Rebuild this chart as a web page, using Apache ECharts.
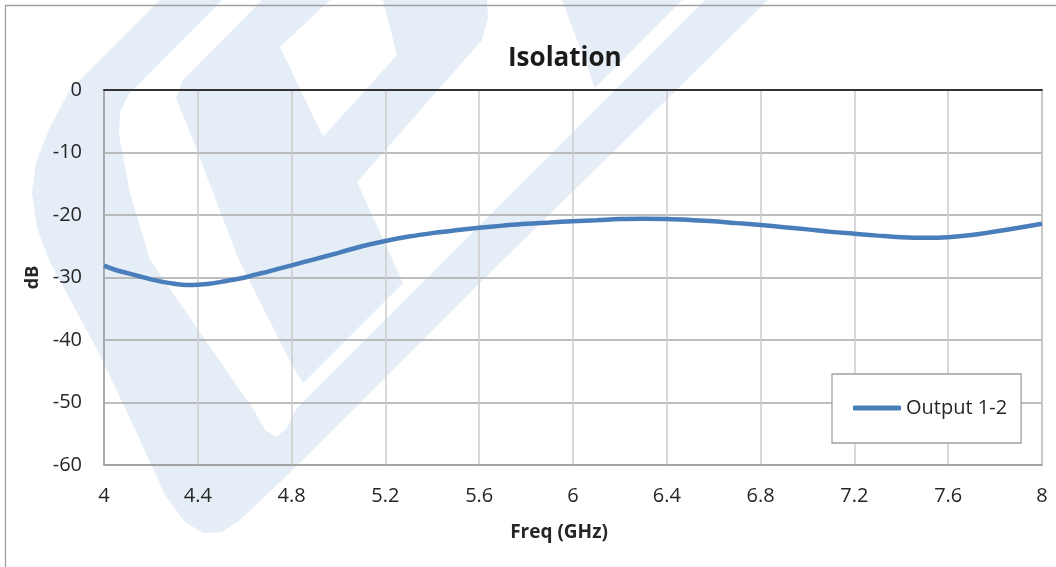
<!DOCTYPE html>
<html>
<head>
<meta charset="utf-8">
<script src="https://cdn.jsdelivr.net/npm/echarts@6/dist/echarts.min.js"></script>
<style>
html,body{margin:0;padding:0;background:#fff;}
#c{width:1056px;height:567px;}
</style>
</head>
<body>
<div id="c"></div>
<script>
// ---- data ----
const titleText = 'Isolation';
const seriesName = 'Output 1-2';
const xName = 'Freq (GHz)';
const yName = 'dB';
const freqs = [4.00,4.05,4.10,4.15,4.20,4.25,4.30,4.35,4.40,4.45,4.50,4.55,4.60,4.65,4.70,4.75,4.80,4.90,5.00,5.10,5.20,5.30,5.40,5.50,5.60,5.70,5.80,5.90,6.00,6.10,6.20,6.30,6.40,6.50,6.60,6.70,6.80,6.90,7.00,7.10,7.20,7.30,7.40,7.50,7.60,7.70,7.80,7.90,8.00];
const isolation = [-28.1,-28.8,-29.3,-29.8,-30.3,-30.7,-31.0,-31.2,-31.15,-31.0,-30.7,-30.35,-30.0,-29.5,-29.05,-28.55,-28.05,-27.05,-26.05,-25.0,-24.15,-23.45,-22.9,-22.45,-22.05,-21.7,-21.4,-21.2,-21.0,-20.85,-20.65,-20.6,-20.65,-20.8,-21.0,-21.3,-21.6,-21.95,-22.3,-22.7,-23.0,-23.3,-23.55,-23.65,-23.55,-23.2,-22.65,-22.05,-21.4];
const xMin = 4, xMax = 8, xStep = 0.4;
const yMin = -60, yMax = 0, yStep = 10;

// ---- watermark (decorative background logo) ----
const wmColor = '#e5edf6';
const wmFrame = [[160,0],[100,60],[70,90],[50,127],[36,162],[32,193],[37,228],[50,262],[100,355],[140,440],[165,495],[185,522],[203,533],[222,532],[240,520],[300,463],[500,263],[768,0],[705,0],[296,409],[286,429],[276,437],[265,430],[255,412],[150,260],[130,193],[119,135],[120,112],[129,94],[222,0]];
const wmInner = [[262,0],[183,80],[176,98],[190,132],[238,258],[292,365],[303,383],[403,283],[357,182],[482,40],[488,18],[487,0],[383,0],[397,55],[323,137],[280,47],[330,0]];
const wmTri = [[562,0],[682,0],[595,88]];

const FONT = 'Open Sans';
const chart = echarts.init(document.getElementById('c'), null, {renderer:'canvas'});
const data = freqs.map((f,i)=>[f, isolation[i]]);

chart.setOption({
  backgroundColor: '#ffffff',
  animation: false,
  graphic: [
    {type:'polygon', z:-10, silent:true, shape:{points:wmFrame, smooth:0}, style:{fill:wmColor}},
    {type:'polygon', z:-10, silent:true, shape:{points:wmInner}, style:{fill:wmColor}},
    {type:'polygon', z:-10, silent:true, shape:{points:wmTri}, style:{fill:wmColor}},
    {type:'rect', z:-5, silent:true, shape:{x:5.5,y:5.5,width:1100,height:700}, style:{fill:null, stroke:'#a0a0a0', lineWidth:1.3}}
  ],
  title: {
    text: titleText,
    left: 503, top: 41,
    textStyle: {fontFamily: FONT, fontSize: 26, fontWeight: 'bold', color: '#1a1a1a'}
  },
  legend: {
    left: 832, top: 374,
    backgroundColor: '#ffffff',
    borderColor: '#a0a0a0', borderWidth: 1.3, borderRadius: 0,
    padding: [24, 14, 25, 21],
    itemWidth: 48, itemHeight: 5,
    data: [{name: seriesName, icon: 'roundRect'}],
    textStyle: {fontFamily: FONT, fontSize: 20, color: '#262626'}
  },
  grid: {
    left: 104, top: 90, right: 14, bottom: 102,
    show: true, borderColor: '#a0a0a0', borderWidth: 1.3, backgroundColor: 'transparent',
    containLabel: false
  },
  xAxis: [{
    type: 'value', min: xMin, max: xMax, interval: xStep,
    position: 'bottom',
    name: xName, nameLocation: 'middle', nameGap: 58,
    nameTextStyle: {fontFamily: FONT, fontSize: 19, fontWeight: 'bold', color: '#262626', padding: [0, 28, 0, 0]},
    axisLine: {onZero: false, lineStyle: {color: '#a0a0a0', width: 1.5}},
    axisTick: {show: false},
    axisLabel: {fontFamily: FONT, fontSize: 20, color: '#262626', margin: 21},
    splitLine: {show: true, lineStyle: {color: '#cbcbcb', width: 1.5}}
  },{
    type: 'value', min: xMin, max: xMax, interval: xStep,
    position: 'top',
    axisLine: {onZero: false, lineStyle: {color: '#333333', width: 1.8}},
    axisTick: {show: false}, axisLabel: {show: false}, splitLine: {show: false}
  }],
  yAxis: {
    type: 'value', min: yMin, max: yMax, interval: yStep,
    name: yName, nameLocation: 'middle', nameGap: 62, nameRotate: 90,
    nameTextStyle: {fontFamily: FONT, fontSize: 18, fontWeight: 'bold', color: '#262626'},
    axisLine: {show: true, lineStyle: {color: '#a0a0a0', width: 1.5}},
    axisTick: {show: false},
    axisLabel: {fontFamily: FONT, fontSize: 20, color: '#262626', margin: 22},
    splitLine: {show: true, lineStyle: {color: '#a8a8a8', width: 1.5}}
  },
  series: [{
    name: seriesName,
    type: 'line',
    xAxisIndex: 0,
    data: data,
    smooth: 0.4,
    symbol: 'none',
    lineStyle: {color: '#4a7ebb', width: 4.5},
    itemStyle: {color: '#4a7ebb'},
    z: 5
  }]
});
</script>
</body>
</html>
